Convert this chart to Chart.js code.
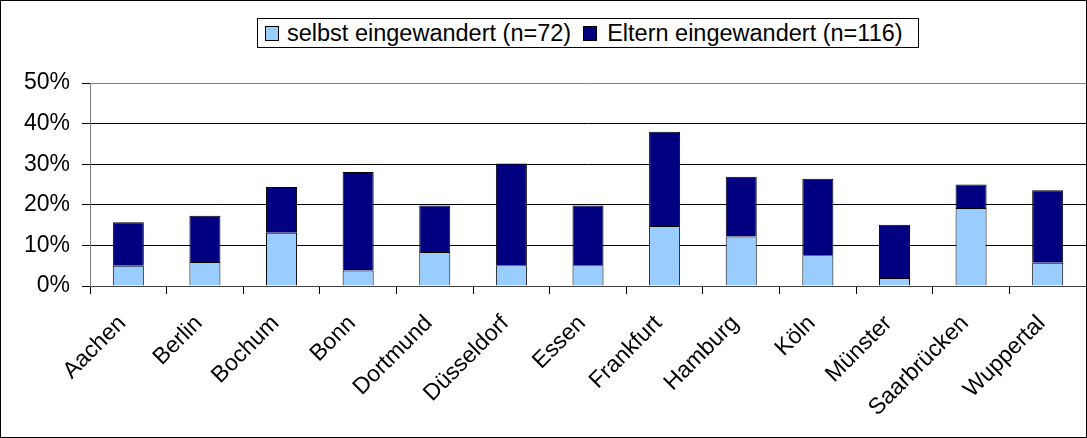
<!DOCTYPE html>
<html>
<head>
<meta charset="utf-8">
<script src="https://cdn.jsdelivr.net/npm/chart.js@4/dist/chart.umd.min.js"></script>
<style>
  html, body { margin: 0; padding: 0; background: #fff; }
  #wrap { position: relative; width: 1087px; height: 438px; }
  #frame { position: absolute; left: 0; top: 0; width: 1087px; height: 438px; box-sizing: border-box; border: 1px solid #000; pointer-events: none; }
  #legend { position: absolute; left: 257px; top: 18px; width: 662px; height: 30px; box-sizing: border-box; border: 1px solid #000; background: #fff;
    font-family: "Liberation Sans", Arial, sans-serif; font-size: 23.5px; color: #000; display: flex; align-items: center; white-space: nowrap; }
  .sw { display: inline-block; width: 12px; height: 13px; border: 1px solid #000; margin-left: 7px; margin-right: 8px; }
</style>
</head>
<body>
<div id="wrap">
  <canvas id="c" width="1087" height="438"></canvas>
  <div id="legend"></div>
  <div id="frame"></div>
</div>
<script>
const categories = ["Aachen", "Berlin", "Bochum", "Bonn", "Dortmund", "Düsseldorf", "Essen", "Frankfurt", "Hamburg", "Köln", "Münster", "Saarbrücken", "Wuppertal"];
const selbstEingewandert = [5.0, 5.9, 13.1, 3.8, 8.4, 5.1, 5.1, 14.8, 12.2, 7.6, 2.0, 19.2, 5.7];
const elternEingewandert = [10.7, 11.4, 11.3, 24.3, 11.4, 25.1, 14.7, 23.2, 14.7, 18.8, 13.1, 5.8, 17.9];
const seriesNames = ["selbst eingewandert (n=72)", "Eltern eingewandert (n=116)"];
const seriesColors = ["#99CCFF", "#000080"];
const yTicks = [0, 10, 20, 30, 40, 50];

const FONT = '"Liberation Sans", Arial, sans-serif';

// HTML legend (real text)
const lg = document.getElementById('legend');
seriesNames.forEach((n, i) => {
  const s = document.createElement('span');
  s.className = 'sw';
  s.style.background = seriesColors[i];
  if (i > 0) { s.style.marginLeft = '12px'; s.style.marginRight = '10px'; }
  lg.appendChild(s);
  const t = document.createElement('span');
  t.textContent = n;
  lg.appendChild(t);
});

new Chart(document.getElementById('c'), {
  type: 'bar',
  data: {
    labels: categories,
    datasets: [
      { label: seriesNames[0], data: selbstEingewandert, backgroundColor: seriesColors[0], borderColor: '#000', borderWidth: 1, barPercentage: 0.405, categoryPercentage: 1 },
      { label: seriesNames[1], data: elternEingewandert, backgroundColor: seriesColors[1], borderColor: '#000', borderWidth: 1, barPercentage: 0.405, categoryPercentage: 1 }
    ]
  },
  options: {
    responsive: false,
    animation: false,
    layout: { padding: { top: 83, right: 1, left: 0, bottom: 0 } },
    plugins: { legend: { display: false }, tooltip: { enabled: false }, title: { display: false } },
    scales: {
      x: {
        stacked: true,
        offset: true,
        grid: { offset: true, drawOnChartArea: false, drawTicks: true, tickLength: 8, tickColor: '#000', lineWidth: 1 },
        border: { display: true, color: '#404040', width: 1 },
        ticks: { autoSkip: false, maxRotation: 45, minRotation: 45, padding: 16, labelOffset: -6, color: '#000', font: { family: FONT, size: 23 } },
        afterFit: (s) => { s.height = 152; }
      },
      y: {
        stacked: true,
        min: 0,
        max: 50,
        afterBuildTicks: (s) => { s.ticks = yTicks.map(v => ({ value: v })); },
        grid: {
          color: (ctx) => (ctx.tick && ctx.tick.value === 50 ? '#808080' : '#000'),
          tickColor: '#000', tickLength: 8, lineWidth: 1
        },
        border: { display: true, color: '#808080', width: 1 },
        ticks: { padding: 12, color: '#000', font: { family: FONT, size: 23 }, callback: (v) => v + '%' },
        afterFit: (s) => { s.width = 90; }
      }
    }
  }
});
</script>
</body>
</html>
